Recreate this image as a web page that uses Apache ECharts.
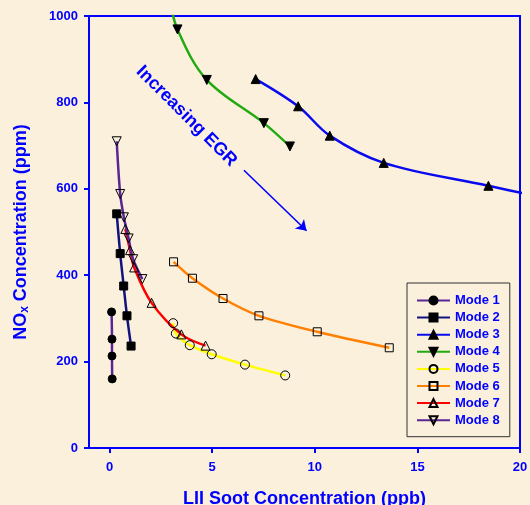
<!DOCTYPE html>
<html>
<head>
<meta charset="utf-8">
<script src="https://cdn.jsdelivr.net/npm/echarts@6/dist/echarts.min.js"></script>
<style>
  html, body { margin: 0; padding: 0; background: #faf0dc; }
  #chart { width: 530px; height: 505px; }
</style>
</head>
<body>
<div id="chart"></div>
<script>
// Soot (ppb) vs NOx (ppm) for eight operating modes
const mode1 = [[0.10, 315], [0.12, 252], [0.12, 213], [0.13, 160]];
const mode2 = [[0.35, 542], [0.52, 450], [0.69, 375], [0.85, 306], [1.05, 236]];
const mode3 = [[7.12, 854], [9.19, 791], [10.73, 723], [13.36, 660], [18.46, 607], [21.0, 581]];
const mode4 = [[2.95, 1040], [3.31, 969], [4.74, 852], [7.52, 752], [8.79, 698]];
const mode5 = [[3.10, 289], [3.23, 265], [3.91, 238], [4.98, 217], [6.60, 193], [8.56, 168]];
const mode6 = [[3.12, 431], [4.04, 393], [5.53, 346], [7.28, 306], [10.12, 269], [13.63, 232]];
const mode7 = [[0.77, 507], [1.00, 458], [1.20, 418], [2.05, 336], [3.50, 263], [4.68, 237]];
const mode8 = [[0.35, 710], [0.52, 588], [0.70, 534], [0.93, 485], [1.15, 437], [1.60, 391]];

const modeNames = ['Mode 1', 'Mode 2', 'Mode 3', 'Mode 4', 'Mode 5', 'Mode 6', 'Mode 7', 'Mode 8'];
const xTicks = [0, 5, 10, 15, 20];
const egrArrow = [[6.55, 643], [9.6, 503]];
const egrLabelAt = [3.75, 768];

const BLUE = '#0000ff';
const FONT = '"Liberation Sans", Arial, sans-serif';
const DOWN_TRIANGLE = 'path://M0,0 L10,0 L5,9 Z';

function mode(name, data, lineColor, symbol, filled, size, smooth) {
  return {
    name: name,
    type: 'line',
    data: data,
    smooth: smooth,
    symbol: symbol,
    symbolSize: size,
    showSymbol: true,
    clip: true,
    lineStyle: { color: lineColor, width: 2.5 },
    itemStyle: filled
      ? { color: '#000000', borderColor: '#000000', borderWidth: 1 }
      : { color: 'rgba(0,0,0,0)', borderColor: '#000000', borderWidth: 1 },
    emphasis: { disabled: true },
    z: 3
  };
}

const series = [
  mode(modeNames[0], mode1, '#5a2596', 'circle', true, 8, 0.3),
  mode(modeNames[1], mode2, '#12127e', 'rect', true, 8, 0.3),
  mode(modeNames[2], mode3, '#0a0aee', 'triangle', true, 9, 0.35),
  mode(modeNames[3], mode4, '#22aa11', DOWN_TRIANGLE, true, 9, 0.35),
  mode(modeNames[4], mode5, '#ffff00', 'circle', false, 9, 0.3),
  mode(modeNames[5], mode6, '#ff7f00', 'rect', false, 8, 0.3),
  mode(modeNames[6], mode7, '#ff0000', 'triangle', false, 9, 0.35),
  mode(modeNames[7], mode8, '#5a2596', DOWN_TRIANGLE, false, 9, 0.3)
];

// Annotation: "Increasing EGR" with its arrow
series[2].markLine = {
  silent: true,
  symbol: ['none', 'arrow'],
  symbolSize: 10,
  label: { show: false },
  lineStyle: { color: BLUE, width: 1.6, type: 'solid' },
  data: [[{ coord: egrArrow[0] }, { coord: egrArrow[1] }]]
};
series[2].markPoint = {
  silent: true,
  symbol: 'circle',
  symbolSize: 1,
  itemStyle: { color: 'rgba(0,0,0,0)' },
  label: {
    show: true,
    position: 'inside',
    formatter: 'Increasing EGR',
    rotate: -45,
    color: BLUE,
    fontFamily: FONT,
    fontWeight: 'bold',
    fontSize: 18
  },
  data: [{ coord: egrLabelAt }]
};

const chart = echarts.init(document.getElementById('chart'), null, { renderer: 'canvas' });
chart.setOption({
  animation: false,
  backgroundColor: '#faf0dc',
  grid: {
    left: 89, right: 10, top: 16, bottom: 57,
    outerBoundsMode: 'none',
    containLabel: false,
    show: true, borderColor: BLUE, borderWidth: 2, backgroundColor: 'transparent'
  },
  legend: {
    data: modeNames,
    orient: 'vertical',
    left: 407,
    top: 283,
    padding: [11, 10, 10, 9],
    itemWidth: 33,
    itemHeight: 10,
    itemGap: 4.1,
    borderColor: '#333333',
    borderWidth: 1,
    backgroundColor: 'rgba(0,0,0,0)',
    selectedMode: false,
    textStyle: { color: BLUE, fontFamily: FONT, fontWeight: 'bold', fontSize: 13 }
  },
  xAxis: {
    type: 'value',
    min: -1,
    max: 20,
    name: 'LII Soot Concentration (ppb)',
    nameLocation: 'middle',
    nameGap: 42,
    nameTextStyle: { color: BLUE, fontFamily: FONT, fontWeight: 'bold', fontSize: 18 },
    axisLine: { show: true, onZero: false, lineStyle: { color: BLUE, width: 2 } },
    axisTick: { show: true, length: 5, lineStyle: { color: BLUE, width: 2 }, customValues: xTicks },
    axisLabel: { color: BLUE, fontFamily: FONT, fontWeight: 'bold', fontSize: 13, margin: 13, customValues: xTicks },
    splitLine: { show: false }
  },
  yAxis: {
    type: 'value',
    min: 0,
    max: 1000,
    interval: 200,
    name: '{t|NO}{s|x}{t| Concentration (ppm)}',
    nameLocation: 'middle',
    nameGap: 58,
    nameRotate: 90,
    nameTextStyle: {
      color: BLUE, fontFamily: FONT, fontWeight: 'bold', fontSize: 18,
      rich: {
        t: { color: BLUE, fontFamily: FONT, fontWeight: 'bold', fontSize: 18 },
        s: { color: BLUE, fontFamily: FONT, fontWeight: 'bold', fontSize: 12, verticalAlign: 'bottom', padding: [8, 0, 0, 0] }
      }
    },
    axisLine: { show: true, onZero: false, lineStyle: { color: BLUE, width: 2 } },
    axisTick: { show: true, length: 5, lineStyle: { color: BLUE, width: 2 } },
    axisLabel: {
      color: BLUE, fontFamily: FONT, fontWeight: 'bold', fontSize: 13, margin: 11,
      formatter: function (v) { return String(v); }
    },
    splitLine: { show: false }
  },
  series: series
});
</script>
</body>
</html>
